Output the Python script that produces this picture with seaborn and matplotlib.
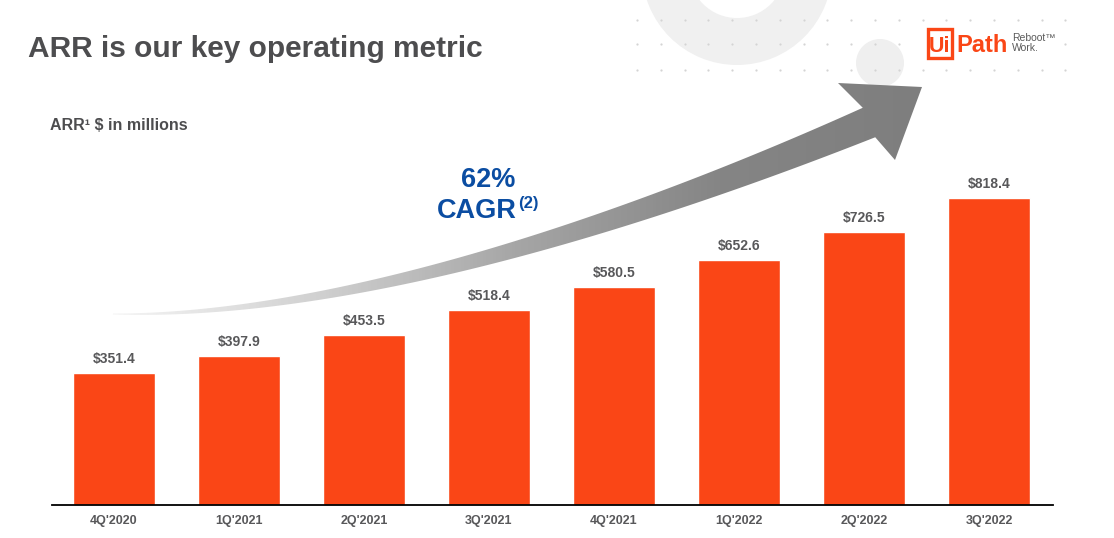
import numpy as np
import pandas as pd
import matplotlib
matplotlib.use("Agg")
import matplotlib.pyplot as plt
import seaborn as sns
from matplotlib.patches import Polygon, Circle, Wedge, Rectangle
from matplotlib.colors import LinearSegmentedColormap

# Data
quarters = ["4Q'2020", "1Q'2021", "2Q'2021", "3Q'2021", "4Q'2021", "1Q'2022", "2Q'2022", "3Q'2022"]
arr = [351.4, 397.9, 453.5, 518.4, 580.5, 652.6, 726.5, 818.4]
value_labels = [f"${v:.1f}" for v in arr]

df = pd.DataFrame({"quarter": quarters, "arr": arr})

orange = "#FA4616"
grey_txt = "#58585a"
blue = "#0B4DA2"

sns.set_theme(style="white")
plt.rcParams['font.family'] = ['Liberation Sans', 'DejaVu Sans']

fig = plt.figure(figsize=(11.14, 5.38), dpi=100)

# background layer in pixel coordinates (decoration, arrow, headings)
bg = fig.add_axes([0, 0, 1, 1], zorder=0)
bg.set_xlim(0, 1114)
bg.set_ylim(538, 0)
bg.axis("off")

# faint ring + small circle top right
bg.add_patch(Wedge((737, -30), 95, 0, 360, width=47, color="#f0f0f0", lw=0))
bg.add_patch(Circle((880, 63), 24, color="#efefef", lw=0))

# dot grid
for yy in [20, 44, 70]:
    for xx in np.arange(637, 1070, 23.8):
        if 918 < xx < 1060 and 22 < yy < 62:
            continue
        bg.plot(xx, yy, "o", ms=1.6, color="#d4d4d4", mec="none")

# curved gradient arrow
P = np.array([[113, 314], [350, 318], [650, 215], [869, 122.5]])
t = np.linspace(0, 1, 200)[:, None]
curve = ((1 - t) ** 3) * P[0] + 3 * t * (1 - t) ** 2 * P[1] + 3 * t ** 2 * (1 - t) * P[2] + t ** 3 * P[3]
deriv = 3 * (1 - t) ** 2 * (P[1] - P[0]) + 6 * (1 - t) * t * (P[2] - P[1]) + 3 * t ** 2 * (P[3] - P[2])
tang = deriv / np.linalg.norm(deriv, axis=1)[:, None]
normal = np.column_stack([tang[:, 1], -tang[:, 0]])
half = (0.5 + 15.5 * t[:, 0] ** 1.1)[:, None]
upper = curve + normal * half
lower = curve - normal * half
head = np.array([[838, 83], [922, 87], [895, 160]])
pts = np.vstack([upper, head, lower[::-1]])
arrow = Polygon(pts, closed=True, fc="none", ec="none")
bg.add_patch(arrow)
cmap = LinearSegmentedColormap.from_list("g", ["#f6f6f6", "#d2d2d2", "#a6a6a6", "#858585", "#7e7e7e"])
grad = np.linspace(0, 1, 256)[None, :]
im = bg.imshow(grad, cmap=cmap, extent=(105, 925, 330, 75), aspect="auto", zorder=1)
im.set_clip_path(arrow)
bg.set_xlim(0, 1114)
bg.set_ylim(538, 0)

# headings
bg.text(28, 57, "ARR is our key operating metric", fontsize=21.5, fontweight="bold",
        color="#4d4d4f", va="baseline", ha="left")
bg.text(50, 130, "ARR¹ $ in millions", fontsize=11.5, fontweight="bold",
        color="#4d4d4f", va="baseline", ha="left")
bg.text(488, 187, "62%", fontsize=19.5, fontweight="bold", color=blue, va="baseline", ha="center")
bg.text(517, 218, "CAGR", fontsize=19.5, fontweight="bold", color=blue, va="baseline", ha="right")
bg.text(518, 208, "(2)", fontsize=12, fontweight="bold", color=blue, va="baseline", ha="left")

# logo
bg.add_patch(Rectangle((928, 29), 24, 29, fill=False, ec=orange, lw=2.4))
bg.text(940, 52, "Ui", fontsize=15.5, fontweight="bold", color=orange, va="baseline", ha="center")
bg.text(956, 52, "Path", fontsize=17, fontweight="bold", color=orange, va="baseline", ha="left")
bg.text(1012, 41, "Reboot\u2122", fontsize=7.5, color="#5a5a5a", va="baseline", ha="left")
bg.text(1012, 51, "Work.", fontsize=7.5, color="#5a5a5a", va="baseline", ha="left")

# bar chart
ax = fig.add_axes([52 / 1114, 33 / 538, 1001 / 1114, 505 / 538], zorder=2)
ax.patch.set_alpha(0)
sns.barplot(data=df, x="quarter", y="arr", color=orange, saturation=1, width=0.656, ax=ax)
ax.set_xlim(-0.496, 7.512)
ax.set_ylim(0, 505 / 0.3757)
ax.bar_label(ax.containers[0], labels=value_labels, padding=5, fontsize=10,
             fontweight="bold", color=grey_txt)
for s in ["top", "left", "right"]:
    ax.spines[s].set_visible(False)
ax.spines["bottom"].set_color("black")
ax.spines["bottom"].set_linewidth(1.3)
ax.set_yticks([])
ax.set_xlabel("")
ax.set_ylabel("")
ax.tick_params(axis="x", length=0, pad=7, labelsize=9, labelcolor=grey_txt)
for lbl in ax.get_xticklabels():
    lbl.set_fontweight("bold")

fig.savefig("out.png", dpi=100, facecolor="white")
